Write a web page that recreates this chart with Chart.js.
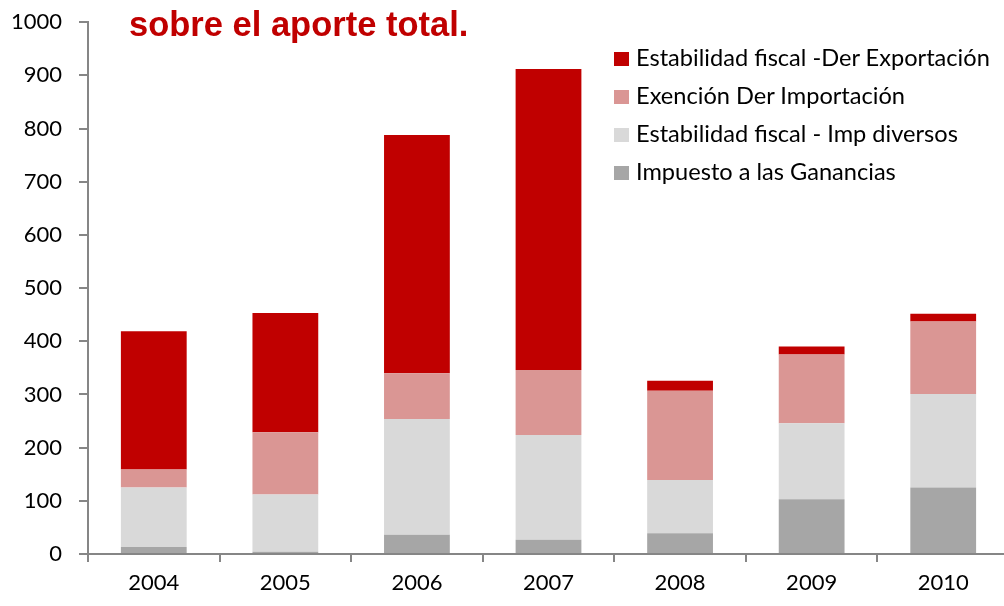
<!DOCTYPE html>
<html>
<head>
<meta charset="utf-8">
<script src="https://cdn.jsdelivr.net/npm/chart.js@4.4.1/dist/chart.umd.min.js"></script>
<style>
  html, body { margin: 0; padding: 0; background: #fff; overflow: hidden; }
  #wrap { position: relative; width: 1004px; height: 606px; overflow: hidden; }
  #box { position: absolute; left: 0; top: -8px; width: 1009px; height: 614px; }
  #title {
    position: absolute; left: 129px; top: 5px;
    font: bold 34.5px "Liberation Sans", Arial, sans-serif; color: #C00000;
    white-space: nowrap;
  }
  #legend { position: absolute; left: 614px; top: 42px; font: 23.6px Lato, sans-serif; color: #000; }
  #legend div { height: 38px; line-height: 30px; white-space: nowrap; }
  #legend span { display: inline-block; width: 15px; height: 14px; margin-right: 7px; vertical-align: 0px; }
</style>
</head>
<body>
<div id="wrap">
  <div id="box"><canvas id="chart"></canvas></div>
  <div id="title">sobre el aporte total.</div>
  <div id="legend"></div>
</div>
<script>
// data
const years = ["2004", "2005", "2006", "2007", "2008", "2009", "2010"];
const ganancias   = [13, 4, 36, 27, 39, 103, 125];
const impDiversos = [112, 108, 218, 197, 100, 143, 176];
const derImport   = [34, 117, 86, 122, 168, 129, 136];
const derExport   = [260, 224, 448, 566, 19, 15, 15];
const yTicks = [0, 100, 200, 300, 400, 500, 600, 700, 800, 900, 1000];

const series = [
  { label: "Impuesto a las Ganancias", data: ganancias, color: "#A6A6A6" },
  { label: "Estabilidad fiscal - Imp diversos", data: impDiversos, color: "#D9D9D9" },
  { label: "Exención Der Importación", data: derImport, color: "#DA9694" },
  { label: "Estabilidad fiscal -Der Exportación", data: derExport, color: "#C00000" }
];

// legend, top entry first like the original
const legend = document.getElementById("legend");
series.slice().reverse().forEach(s => {
  const row = document.createElement("div");
  row.innerHTML = '<span style="background:' + s.color + '"></span>' + s.label;
  legend.appendChild(row);
});

const axisColor = "#868686";

new Chart(document.getElementById("chart"), {
  type: "bar",
  data: {
    labels: years,
    datasets: series.map(s => ({
      label: s.label,
      data: s.data,
      backgroundColor: s.color,
      borderWidth: 0,
      barPercentage: 0.5,
      categoryPercentage: 1
    }))
  },
  options: {
    responsive: true,
    maintainAspectRatio: false,
    animation: false,
    layout: { padding: { top: 14, right: 0, left: 0, bottom: 0 } },
    plugins: { legend: { display: false }, tooltip: { enabled: false } },
    scales: {
      x: {
        stacked: true,
        grid: { drawOnChartArea: false, offset: true, color: axisColor, tickLength: 8, lineWidth: 2 },
        border: { color: axisColor, width: 2 },
        ticks: { color: "#000", font: { family: "Lato", size: 22 }, padding: 8, maxRotation: 0 },
        afterFit: (axis) => { axis.height = 52; }
      },
      y: {
        stacked: true,
        min: 0,
        max: 1000,
        afterBuildTicks: (axis) => { axis.ticks = yTicks.map(v => ({ value: v })); },
        grid: { drawOnChartArea: false, color: axisColor, tickLength: 9, lineWidth: 2 },
        border: { color: axisColor, width: 2 },
        ticks: { color: "#000", font: { family: "Lato", size: 22 }, padding: 17, callback: (v) => String(v) },
        afterFit: (axis) => { axis.width = 88; }
      }
    }
  }
});
</script>
</body>
</html>
